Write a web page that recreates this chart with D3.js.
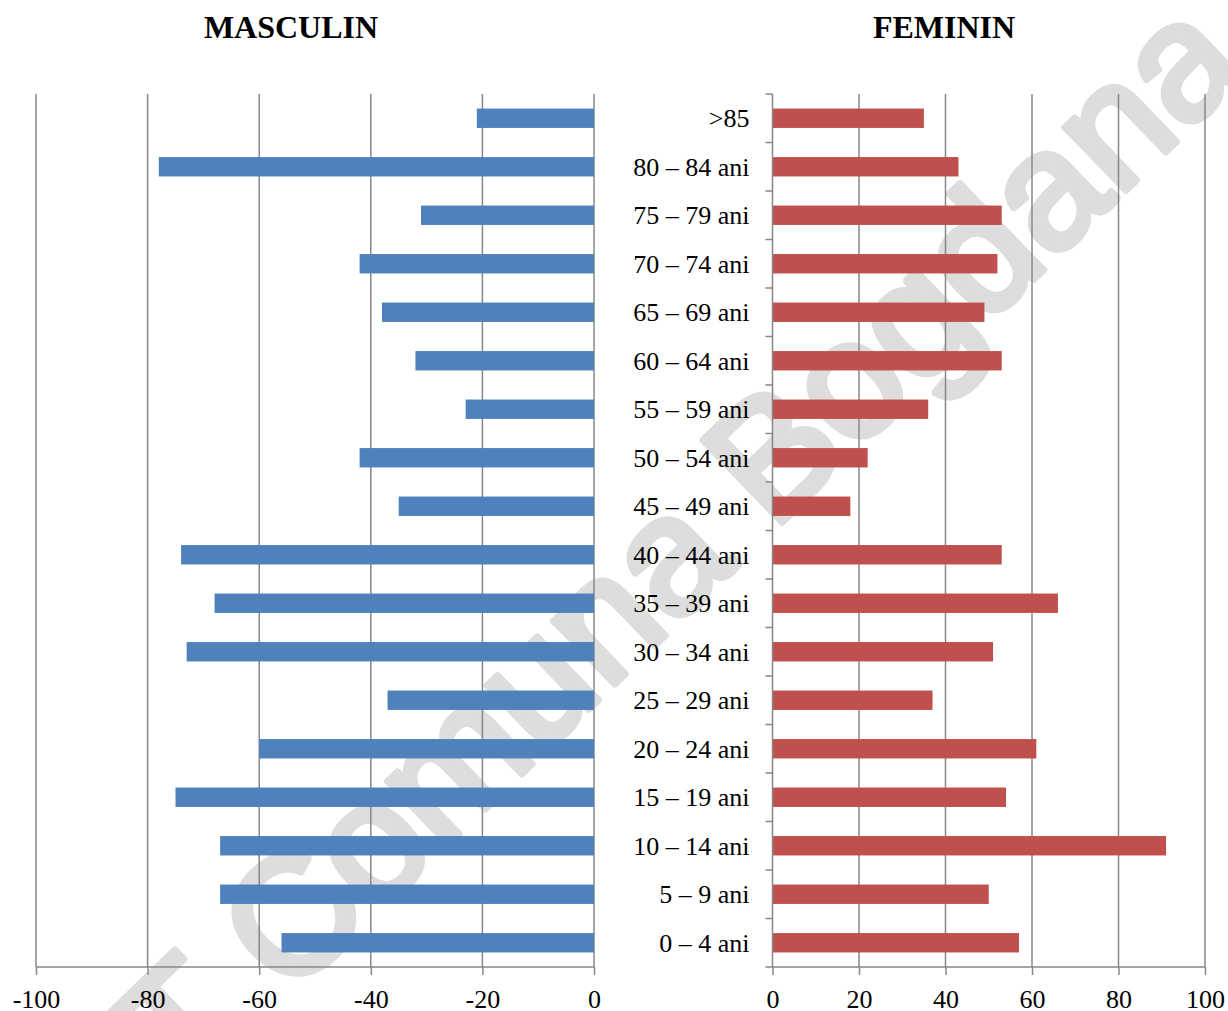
<!DOCTYPE html>
<html>
<head>
<meta charset="utf-8">
<script src="https://cdn.jsdelivr.net/npm/d3@7"></script>
<style>
  html, body { margin: 0; padding: 0; background: #ffffff; }
  svg { display: block; }
</style>
</head>
<body>
<svg id="chart" width="1228" height="1011"></svg>
<script>
// ---- data (top row first, as in the picture) ----
const categories = [">85", "80 – 84 ani", "75 – 79 ani", "70 – 74 ani", "65 – 69 ani", "60 – 64 ani",
  "55 – 59 ani", "50 – 54 ani", "45 – 49 ani", "40 – 44 ani", "35 – 39 ani", "30 – 34 ani",
  "25 – 29 ani", "20 – 24 ani", "15 – 19 ani", "10 – 14 ani", "5 – 9 ani", "0 – 4 ani"];
const maleValues = [-21, -78, -31, -42, -38, -32, -23, -42, -35, -74, -68, -73, -37, -60, -75, -67, -67, -56];
const femaleValues = [35, 43, 53, 52, 49, 53, 36, 22, 18, 53, 66, 51, 37, 61, 54, 91, 50, 57];
const maleTicks = [-100, -80, -60, -40, -20, 0];
const femaleTicks = [0, 20, 40, 60, 80, 100];
const titleMale = "MASCULIN";
const titleFemale = "FEMININ";
const watermarkText = "T Comuna Bogdana";

// ---- layout ----
const svg = d3.select("#chart");
const plotTop = 94, plotBottom = 967;
const gridColor = "#878787";
const serif = "'Liberation Serif', 'Times New Roman', serif";

const y = d3.scaleBand().domain(categories).range([plotTop, plotBottom]).paddingInner(0.6).paddingOuter(0.3);
const xL = d3.scaleLinear().domain([-100, 0]).range([36, 594]);
const xR = d3.scaleLinear().domain([0, 100]).range([772.5, 1205]);

// watermark (behind everything)
svg.append("text")
  .attr("transform", "translate(184,1100) rotate(-44)")
  .attr("font-family", "'Liberation Sans', Arial, sans-serif")
  .attr("font-size", 166)
  .attr("fill", "#dddddd")
  .attr("stroke", "#dddddd")
  .attr("stroke-width", 7)
  .attr("stroke-linejoin", "round")
  .text(watermarkText);

// titles
svg.append("text").attr("x", 291).attr("y", 37.5).attr("text-anchor", "middle")
  .attr("font-family", serif).attr("font-weight", "bold").attr("font-size", 32).text(titleMale);
svg.append("text").attr("x", 944).attr("y", 37.5).attr("text-anchor", "middle")
  .attr("font-family", serif).attr("font-weight", "bold").attr("font-size", 32).text(titleFemale);

// ---- left panel ----
const gL = svg.append("g");
gL.selectAll("line.grid").data(maleTicks).join("line")
  .attr("x1", d => xL(d)).attr("x2", d => xL(d))
  .attr("y1", plotTop).attr("y2", plotBottom)
  .attr("stroke", gridColor).attr("stroke-width", 1.5);

gL.selectAll("rect").data(maleValues).join("rect")
  .attr("x", d => xL(d)).attr("width", d => xL(0) - xL(d))
  .attr("y", (d, i) => y(categories[i])).attr("height", y.bandwidth())
  .attr("fill", "#4F81BD");

const axL = gL.append("g").attr("transform", `translate(0,${plotBottom})`)
  .call(d3.axisBottom(xL).tickValues(maleTicks).tickSize(8).tickPadding(6).tickFormat(d3.format("d")));
axL.select(".domain").attr("stroke", gridColor).attr("stroke-width", 1.5).attr("d", `M${xL(-100)},0H${xL(0)}`);
axL.selectAll(".tick line").attr("stroke", gridColor).attr("stroke-width", 1.5);
axL.selectAll(".tick text").attr("font-family", serif).attr("font-size", 26).attr("fill", "#000")
  .attr("dy", null).attr("y", 40.5);
axL.selectAll(".tick text").text(d => d < 0 ? "-" + Math.abs(d) : d);

// ---- right panel ----
const gR = svg.append("g");
gR.selectAll("line.grid").data(femaleTicks.slice(1)).join("line")
  .attr("x1", d => xR(d)).attr("x2", d => xR(d))
  .attr("y1", plotTop).attr("y2", plotBottom)
  .attr("stroke", gridColor).attr("stroke-width", 1.5);

gR.selectAll("rect").data(femaleValues).join("rect")
  .attr("x", xR(0)).attr("width", d => xR(d) - xR(0))
  .attr("y", (d, i) => y(categories[i])).attr("height", y.bandwidth())
  .attr("fill", "#C0504D");

// category axis (vertical) with ticks at category boundaries
const step = y.step();
const boundaries = d3.range(categories.length + 1).map(i => plotTop + i * step);
gR.append("line").attr("x1", xR(0)).attr("x2", xR(0)).attr("y1", plotTop).attr("y2", plotBottom)
  .attr("stroke", gridColor).attr("stroke-width", 1.5);
gR.selectAll("line.ctick").data(boundaries).join("line").attr("class", "ctick")
  .attr("x1", xR(0) - 7).attr("x2", xR(0)).attr("y1", d => d).attr("y2", d => d)
  .attr("stroke", gridColor).attr("stroke-width", 1.5);

const axR = gR.append("g").attr("transform", `translate(0,${plotBottom})`)
  .call(d3.axisBottom(xR).tickValues(femaleTicks).tickSize(8).tickPadding(6).tickFormat(d3.format("d")));
axR.select(".domain").attr("stroke", gridColor).attr("stroke-width", 1.5).attr("d", `M${xR(0)},0H${xR(100)}`);
axR.selectAll(".tick line").attr("stroke", gridColor).attr("stroke-width", 1.5);
axR.selectAll(".tick text").attr("font-family", serif).attr("font-size", 26).attr("fill", "#000")
  .attr("dy", null).attr("y", 40.5);

// category labels
svg.append("g").selectAll("text").data(categories).join("text")
  .attr("x", 749.5).attr("y", d => y(d) + y.bandwidth() / 2 + 9)
  .attr("text-anchor", "end")
  .attr("font-family", serif).attr("font-size", 26).attr("fill", "#000")
  .text(d => d);
</script>
</body>
</html>
